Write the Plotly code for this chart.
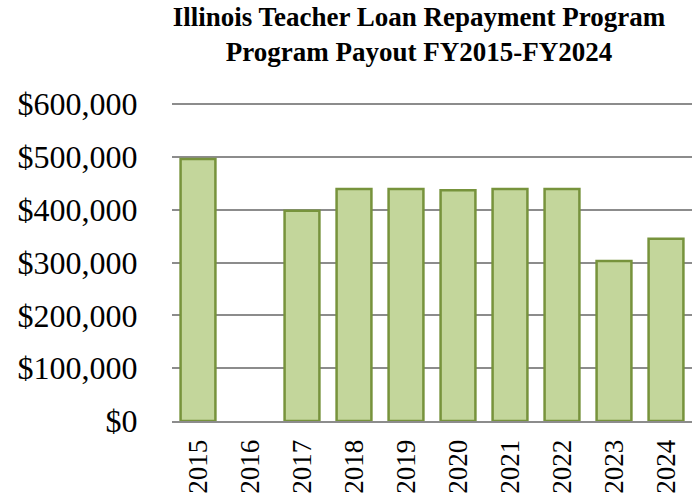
import plotly.graph_objects as go

years = ["2015", "2016", "2017", "2018", "2019", "2020", "2021", "2022", "2023", "2024"]
payout = [496000, None, 398000, 439000, 439000, 437000, 439000, 439000, 303000, 345000]
tick_vals = [0, 100000, 200000, 300000, 400000, 500000, 600000]
tick_text = ["$0", "$100,000", "$200,000", "$300,000", "$400,000", "$500,000", "$600,000"]

fig = go.Figure()
fig.add_trace(go.Bar(
    x=years, y=payout,
    marker=dict(color="#C3D69B", line=dict(color="#77933C", width=2.5)),
))

fig.update_layout(
    width=696, height=498,
    paper_bgcolor="white", plot_bgcolor="white",
    margin=dict(l=172, r=4, t=103, b=77),
    bargap=0.33,
    showlegend=False,
    font=dict(family="Liberation Serif", color="black"),
    title=dict(
        text="<b>Illinois Teacher Loan Repayment Program<br>Program Payout FY2015-FY2024</b>",
        font=dict(size=27, family="Liberation Serif", color="black"),
        x=0.602, xanchor="center", y=0.947, yanchor="top",
    ),
)
fig.update_yaxes(
    range=[0, 602000], tickvals=tick_vals, ticktext=tick_text,
    showgrid=True, gridcolor="#8C8C8C", gridwidth=2,
    zeroline=False, showline=False, automargin=False,
    tickfont=dict(size=32, family="Liberation Serif"),
    ticks="outside", ticklen=27, tickcolor="white",
)
fig.update_xaxes(
    tickangle=-90, tickfont=dict(size=27, family="Liberation Serif"),
    showline=True, linecolor="#8C8C8C", linewidth=2, ticks="outside",
    ticklen=6, tickcolor="white", automargin=False,
)

# drop the default 8px body margin so the figure sits at the page origin
fig.write_html("out.html", config={"displayModeBar": False},
               post_script="document.body.style.margin='0';")
